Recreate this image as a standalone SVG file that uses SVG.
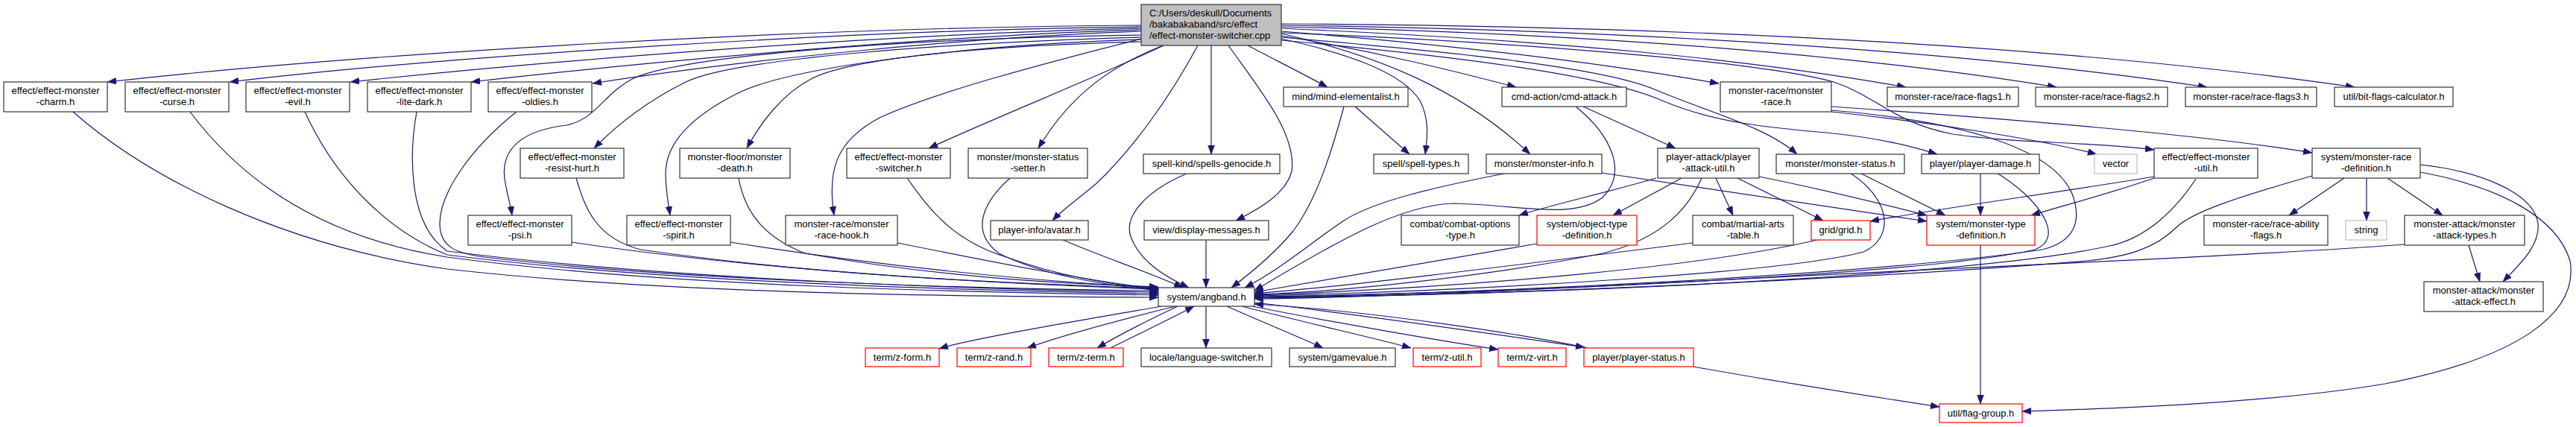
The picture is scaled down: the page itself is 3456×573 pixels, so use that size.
<svg xmlns="http://www.w3.org/2000/svg" width="3456" height="573" viewBox="0 0 3456 573">
<style>
.n rect{fill:#fff;stroke:#333;stroke-width:1.2}
.n.red rect{stroke:#ff0000}
.n.ext rect{stroke:#bfbfbf}
.n.root rect{fill:#bfbfbf}
text{font-family:"Liberation Sans",Arial,sans-serif;font-size:13px;fill:#000;text-anchor:middle}
.root text{text-anchor:start}
#edges path{fill:none;stroke:#191970;stroke-width:1.2;marker-end:url(#ah)}
</style>
<defs>
<marker id="ah" markerUnits="userSpaceOnUse" markerWidth="12" markerHeight="10" refX="12" refY="4.5" orient="auto">
<path d="M0,0 L12,4.5 L0,9 z" fill="#191970" stroke="#191970" stroke-width="0.5"/>
</marker>
</defs>
<rect width="3456" height="573" fill="#fff"/>
<g id="edges">
<path d="M1531,34 C1100,36 500,70 144,110"/>
<path d="M1531,36 C1150,40 600,75 308,110"/>
<path d="M1531,38 C1200,45 750,80 470,110"/>
<path d="M1531,40 C1250,48 850,85 632,110"/>
<path d="M1531,42 C1300,50 1000,80 795,112"/>
<path d="M1531,47 C1200,52 920,75 850,105 C810,125 800,160 760,168 C700,175 672,200 677,240 C680,260 685,275 687,289"/>
<path d="M1531,50 C1250,58 980,80 920,110 C870,135 830,165 797,199"/>
<path d="M1531,53 C1300,60 1060,90 990,125 C930,155 893,190 893,233 C893,255 897,275 899,289"/>
<path d="M1531,56 C1300,62 1140,80 1090,105 C1050,125 1020,165 1002,199"/>
<path d="M1531,52 C1400,85 1250,125 1180,158 C1120,190 1110,230 1119,289"/>
<path d="M1561,61 C1480,100 1330,160 1246,199"/>
<path d="M1560,61 C1500,85 1440,120 1393,199"/>
<path d="M1607,61 C1570,130 1520,200 1470,247 C1445,268 1425,282 1412,296"/>
<path d="M1625,61 L1625,207"/>
<path d="M1648,61 C1690,120 1740,180 1733,230 C1725,260 1690,280 1658,296"/>
<path d="M1674,61 C1710,80 1750,100 1781,117"/>
<path d="M1719,52 C1800,70 1880,95 1905,135 C1918,160 1915,185 1912,207"/>
<path d="M1719,48 C1850,70 1950,95 2034,117"/>
<path d="M1719,45 C1850,75 1960,120 2053,207"/>
<path d="M1719,42 C1950,60 2150,85 2306,112"/>
<path d="M1719,38 C2100,55 2350,80 2557,117"/>
<path d="M1719,36 C2150,45 2500,75 2759,117"/>
<path d="M1719,34 C2200,40 2650,70 2961,117"/>
<path d="M1719,32 C2300,35 2800,65 3159,117"/>
<path d="M1719,44 C2000,55 2350,80 2460,110 C2520,130 2540,165 2620,180 C2700,192 2800,190 2890,201"/>
<path d="M1719,50 C1950,70 2150,90 2220,120 C2290,150 2370,170 2411,207"/>
<path d="M1719,54 C1950,75 2150,100 2230,135 C2300,165 2380,172 2450,178 C2520,185 2560,195 2599,207"/>
<path d="M98,150 C200,240 380,330 600,361 C900,395 1300,398 1554,399"/>
<path d="M255,150 C330,250 440,320 600,345 C900,385 1300,392 1554,396"/>
<path d="M409,150 C450,240 520,310 600,342 C900,380 1300,390 1554,394"/>
<path d="M559,150 C550,200 545,300 600,337 C900,375 1300,388 1554,392"/>
<path d="M693,150 C630,200 590,260 590,300 C590,330 610,340 650,345 C900,375 1300,388 1554,390"/>
<path d="M767,325 C1000,360 1300,380 1554,388"/>
<path d="M773,239 C785,280 800,320 860,335 C1100,370 1350,380 1554,387"/>
<path d="M980,325 C1200,360 1400,378 1554,386"/>
<path d="M991,239 C1000,290 1030,320 1080,340 C1250,370 1400,380 1554,385"/>
<path d="M1204,326 C1350,355 1450,375 1554,388"/>
<path d="M1217,239 C1240,270 1270,320 1350,345 C1420,370 1480,380 1554,389"/>
<path d="M1355,239 C1320,270 1300,310 1340,340 C1400,370 1480,382 1554,390"/>
<path d="M1426,322 C1480,345 1540,365 1587,386"/>
<path d="M1592,233 C1540,255 1505,290 1518,320 C1530,350 1560,370 1595,386"/>
<path d="M1618,322 L1618,386"/>
<path d="M1803,143 C1785,210 1765,270 1735,310 C1710,340 1680,365 1652,386"/>
<path d="M2023,232 C1930,250 1840,270 1800,298 C1760,325 1720,360 1670,386"/>
<path d="M2114,143 C2160,180 2185,230 2150,265 C2110,295 2040,275 1950,273 C1880,275 1800,320 1683,390"/>
<path d="M2062,327 C1900,355 1750,380 1683,392"/>
<path d="M2271,326 C2000,360 1800,385 1683,394"/>
<path d="M2283,239 C2265,280 2230,320 2150,340 C2000,370 1800,392 1683,395"/>
<path d="M2442,321 C2300,355 2000,385 1683,396"/>
<path d="M2482,232 C2540,270 2540,320 2500,338 C2400,365 2000,390 1683,397"/>
<path d="M2679,232 C2740,270 2770,320 2730,335 C2600,365 2100,392 1683,398"/>
<path d="M2946,240 C2920,280 2880,320 2830,330 C2650,370 2100,395 1683,399"/>
<path d="M2457,148 C2600,160 2750,190 2780,260 C2795,300 2780,325 2740,335 C2500,370 2000,393 1683,399"/>
<path d="M3102,236 C3000,265 2940,285 2920,305 C2890,335 2850,345 2800,350 C2500,375 2000,396 1683,400"/>
<path d="M3226,328 C3000,345 2600,360 2304,376 C2000,392 1800,400 1683,401"/>
<path d="M1558,411 C1450,430 1300,455 1260,468"/>
<path d="M1577,411 C1500,430 1420,452 1378,467"/>
<path d="M1580,411 C1540,430 1500,450 1472,467"/>
<path d="M1490,467 C1530,447 1570,428 1602,411"/>
<path d="M1618,411 L1618,467"/>
<path d="M1646,411 C1700,435 1750,455 1775,467"/>
<path d="M1666,411 C1760,435 1850,455 1893,467"/>
<path d="M1680,411 C1800,435 1950,460 2010,469"/>
<path d="M1683,406 C1850,425 2050,455 2126,466"/>
<path d="M2130,467 C2050,450 1850,418 1683,408"/>
<path d="M2272,492 C2400,515 2530,535 2602,546"/>
<path d="M2657,329 L2657,542"/>
<path d="M3247,231 C3350,250 3430,290 3448,350 C3460,420 3380,480 3200,515 C3050,540 2850,548 2713,552"/>
<path d="M3247,221 C3330,230 3400,260 3405,300 C3408,330 3380,355 3358,378"/>
<path d="M3145,239 L3071,289"/>
<path d="M3175,239 L3175,296"/>
<path d="M3203,239 L3277,289"/>
<path d="M3312,329 L3327,378"/>
<path d="M2457,150 C2600,165 2750,190 2813,207"/>
<path d="M2457,143 C2700,160 2950,180 3102,205"/>
<path d="M2890,239 C2830,260 2770,275 2725,289"/>
<path d="M2890,237 C2750,260 2600,280 2509,297"/>
<path d="M2495,232 L2610,289"/>
<path d="M2657,232 L2657,289"/>
<path d="M2360,237 C2450,255 2530,275 2585,289"/>
<path d="M2149,232 C2300,255 2480,280 2585,297"/>
<path d="M2331,239 L2446,296"/>
<path d="M2302,239 L2325,289"/>
<path d="M2256,239 L2164,289"/>
<path d="M2222,239 C2150,260 2080,275 2038,289"/>
<path d="M2124,143 L2248,199"/>
<path d="M1818,143 L1891,207"/>
</g>
<g id="n0" class="n root"><rect x="1531" y="6" width="188" height="55"/><text x="1542" y="22">C:/Users/deskull/Documents</text><text x="1542" y="37">/bakabakaband/src/effect</text><text x="1542" y="52">/effect-monster-switcher.cpp</text></g>
<g id="n1" class="n"><rect x="5" y="110" width="139" height="40"/><text x="74.5" y="126">effect/effect-monster</text><text x="74.5" y="141">-charm.h</text></g>
<g id="n2" class="n"><rect x="168" y="110" width="139" height="40"/><text x="237.5" y="126">effect/effect-monster</text><text x="237.5" y="141">-curse.h</text></g>
<g id="n3" class="n"><rect x="330" y="110" width="139" height="40"/><text x="399.5" y="126">effect/effect-monster</text><text x="399.5" y="141">-evil.h</text></g>
<g id="n4" class="n"><rect x="493" y="110" width="139" height="40"/><text x="562.5" y="126">effect/effect-monster</text><text x="562.5" y="141">-lite-dark.h</text></g>
<g id="n5" class="n"><rect x="655" y="110" width="139" height="40"/><text x="724.5" y="126">effect/effect-monster</text><text x="724.5" y="141">-oldies.h</text></g>
<g id="n6" class="n"><rect x="628" y="289" width="139" height="40"/><text x="697.5" y="305">effect/effect-monster</text><text x="697.5" y="320">-psi.h</text></g>
<g id="n7" class="n"><rect x="698" y="199" width="139" height="40"/><text x="767.5" y="215">effect/effect-monster</text><text x="767.5" y="230">-resist-hurt.h</text></g>
<g id="n8" class="n"><rect x="841" y="289" width="139" height="40"/><text x="910.5" y="305">effect/effect-monster</text><text x="910.5" y="320">-spirit.h</text></g>
<g id="n9" class="n"><rect x="912" y="199" width="148" height="40"/><text x="986" y="215">monster-floor/monster</text><text x="986" y="230">-death.h</text></g>
<g id="n10" class="n"><rect x="1054" y="289" width="150" height="40"/><text x="1129" y="305">monster-race/monster</text><text x="1129" y="320">-race-hook.h</text></g>
<g id="n11" class="n"><rect x="1136" y="199" width="139" height="40"/><text x="1205.5" y="215">effect/effect-monster</text><text x="1205.5" y="230">-switcher.h</text></g>
<g id="n12" class="n"><rect x="1299" y="199" width="160" height="40"/><text x="1379" y="215">monster/monster-status</text><text x="1379" y="230">-setter.h</text></g>
<g id="n13" class="n"><rect x="1329" y="296" width="131" height="26"/><text x="1394.5" y="313">player-info/avatar.h</text></g>
<g id="n14" class="n"><rect x="1534" y="207" width="183" height="26"/><text x="1625.5" y="224">spell-kind/spells-genocide.h</text></g>
<g id="n15" class="n"><rect x="1535" y="296" width="167" height="26"/><text x="1618.5" y="313">view/display-messages.h</text></g>
<g id="n16" class="n"><rect x="1722" y="117" width="167" height="26"/><text x="1805.5" y="134">mind/mind-elementalist.h</text></g>
<g id="n17" class="n"><rect x="1843" y="207" width="127" height="26"/><text x="1906.5" y="224">spell/spell-types.h</text></g>
<g id="n18" class="n"><rect x="2015" y="117" width="167" height="26"/><text x="2098.5" y="134">cmd-action/cmd-attack.h</text></g>
<g id="n19" class="n"><rect x="1994" y="207" width="155" height="26"/><text x="2071.5" y="224">monster/monster-info.h</text></g>
<g id="n20" class="n"><rect x="2224" y="199" width="136" height="40"/><text x="2292" y="215">player-attack/player</text><text x="2292" y="230">-attack-util.h</text></g>
<g id="n21" class="n"><rect x="1880" y="289" width="158" height="40"/><text x="1959" y="305">combat/combat-options</text><text x="1959" y="320">-type.h</text></g>
<g id="n22" class="n red"><rect x="2062" y="289" width="134" height="40"/><text x="2129" y="305">system/object-type</text><text x="2129" y="320">-definition.h</text></g>
<g id="n23" class="n"><rect x="2271" y="289" width="135" height="40"/><text x="2338.5" y="305">combat/martial-arts</text><text x="2338.5" y="320">-table.h</text></g>
<g id="n24" class="n red"><rect x="2430" y="296" width="79" height="26"/><text x="2469.5" y="313">grid/grid.h</text></g>
<g id="n25" class="n red"><rect x="2585" y="289" width="145" height="40"/><text x="2657.5" y="305">system/monster-type</text><text x="2657.5" y="320">-definition.h</text></g>
<g id="n26" class="n"><rect x="2308" y="110" width="149" height="40"/><text x="2382.5" y="126">monster-race/monster</text><text x="2382.5" y="141">-race.h</text></g>
<g id="n27" class="n"><rect x="2532" y="117" width="176" height="26"/><text x="2620" y="134">monster-race/race-flags1.h</text></g>
<g id="n28" class="n"><rect x="2731" y="117" width="177" height="26"/><text x="2819.5" y="134">monster-race/race-flags2.h</text></g>
<g id="n29" class="n"><rect x="2932" y="117" width="176" height="26"/><text x="3020" y="134">monster-race/race-flags3.h</text></g>
<g id="n30" class="n"><rect x="3132" y="117" width="159" height="26"/><text x="3211.5" y="134">util/bit-flags-calculator.h</text></g>
<g id="n31" class="n"><rect x="2383" y="207" width="172" height="26"/><text x="2469" y="224">monster/monster-status.h</text></g>
<g id="n32" class="n"><rect x="2578" y="207" width="158" height="26"/><text x="2657" y="224">player/player-damage.h</text></g>
<g id="n33" class="n ext"><rect x="2810" y="207" width="57" height="26"/><text x="2838.5" y="224">vector</text></g>
<g id="n34" class="n"><rect x="2890" y="199" width="139" height="40"/><text x="2959.5" y="215">effect/effect-monster</text><text x="2959.5" y="230">-util.h</text></g>
<g id="n35" class="n"><rect x="3102" y="199" width="145" height="40"/><text x="3174.5" y="215">system/monster-race</text><text x="3174.5" y="230">-definition.h</text></g>
<g id="n36" class="n"><rect x="2957" y="289" width="166" height="40"/><text x="3040" y="305">monster-race/race-ability</text><text x="3040" y="320">-flags.h</text></g>
<g id="n37" class="n ext"><rect x="3147" y="296" width="55" height="26"/><text x="3174.5" y="313">string</text></g>
<g id="n38" class="n"><rect x="3226" y="289" width="161" height="40"/><text x="3306.5" y="305">monster-attack/monster</text><text x="3306.5" y="320">-attack-types.h</text></g>
<g id="n39" class="n"><rect x="3252" y="378" width="160" height="40"/><text x="3332" y="394">monster-attack/monster</text><text x="3332" y="409">-attack-effect.h</text></g>
<g id="n40" class="n"><rect x="1554" y="386" width="129" height="25"/><text x="1618.5" y="403">system/angband.h</text></g>
<g id="n41" class="n red"><rect x="1161" y="467" width="99" height="25"/><text x="1210.5" y="484">term/z-form.h</text></g>
<g id="n42" class="n red"><rect x="1284" y="467" width="99" height="25"/><text x="1333.5" y="484">term/z-rand.h</text></g>
<g id="n43" class="n red"><rect x="1407" y="467" width="100" height="25"/><text x="1457" y="484">term/z-term.h</text></g>
<g id="n44" class="n"><rect x="1531" y="467" width="175" height="25"/><text x="1618.5" y="484">locale/language-switcher.h</text></g>
<g id="n45" class="n"><rect x="1730" y="467" width="142" height="25"/><text x="1801" y="484">system/gamevalue.h</text></g>
<g id="n46" class="n red"><rect x="1896" y="467" width="91" height="25"/><text x="1941.5" y="484">term/z-util.h</text></g>
<g id="n47" class="n red"><rect x="2010" y="467" width="91" height="25"/><text x="2055.5" y="484">term/z-virt.h</text></g>
<g id="n48" class="n red"><rect x="2125" y="467" width="147" height="25"/><text x="2198.5" y="484">player/player-status.h</text></g>
<g id="n49" class="n red"><rect x="2602" y="542" width="111" height="25"/><text x="2657.5" y="559">util/flag-group.h</text></g>
</svg>
